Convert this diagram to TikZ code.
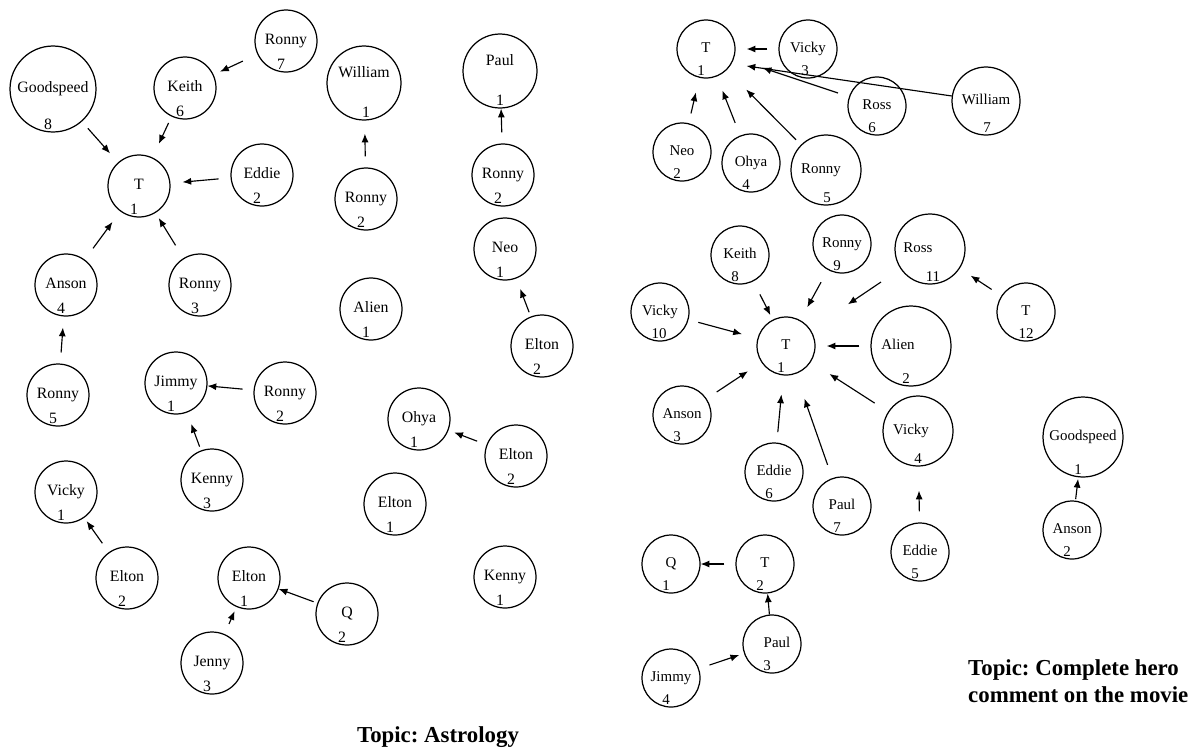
\documentclass[tikz,border=0pt]{standalone}
\usepackage{fontspec}
\setmainfont{Liberation Serif}
\usetikzlibrary{arrows.meta}
\frenchspacing
\tikzstyle{hero}=[circle,draw=black!100,line width=0.7pt,inner sep=0pt,minimum size=1.24cm,text height=6pt,text depth=1.5pt]
\tikzstyle{smallhero}=[hero,minimum size=1.16cm]
\tikzstyle{rank}=[inner sep=0pt,label distance=-0.27cm,xshift=-0.1cm]
\tikzstyle{link}=[-{Latex[length=5pt,width=4pt]},line width=0.65pt,shorten <=0.22cm,shorten >=0.22cm]
\tikzstyle{topic}=[font=\fontsize{13}{15.4}\selectfont\bfseries]

\begin{document}
\begin{tikzpicture}[x=0.02cm,y=-0.02cm,font=\fontsize{9}{11}\selectfont]
\useasboundingbox (0,0) rectangle (1189,751);

% Topic: Astrology
\node (good8) at (53,89) [hero,minimum size=1.72cm,label={[rank]below:8}] {Goodspeed};
\node (keith6) at (185,88) [hero,label={[rank]below:6}] {Keith};
\node (ronny7) at (286,41) [hero,label={[rank]below:7}] {Ronny};
\node (t1) at (139,186) [hero,label={[rank]below:1}] {T};
\node (eddie2) at (262,175) [hero,label={[rank]below:2}] {Eddie};
\node (william1) at (364,83) [hero,minimum size=1.48cm,text depth=11.7pt,label={[rank,xshift=0.14cm]below:1}] {William};
\node (ronny2a) at (366,199) [hero,label={[rank]below:2}] {Ronny};
\node (paul1) at (500,71) [hero,minimum size=1.48cm,text depth=11.7pt,label={[rank,xshift=0.1cm]below:1}] {Paul};
\node (ronny2b) at (503,175) [hero,label={[rank]below:2}] {Ronny};
\node (neo1) at (505,249) [hero,label={[rank]below:1}] {Neo};
\node (alien1) at (371,309) [hero,label={[rank]below:1}] {Alien};
\node (elton2a) at (542,346) [hero,label={[rank]below:2}] {Elton};
\node (ohya1) at (419,419) [hero,label={[rank]below:1}] {Ohya};
\node (elton2b) at (516,456) [hero,label={[rank]below:2}] {Elton};
\node (elton1a) at (395,504) [hero,label={[rank]below:1}] {Elton};
\node (kenny1) at (505,577) [hero,label={[rank]below:1}] {Kenny};
\node (anson4) at (66,285) [hero,label={[rank]below:4}] {Anson};
\node (ronny3) at (200,285) [hero,label={[rank]below:3}] {Ronny};
\node (ronny5) at (58,395) [hero,label={[rank]below:5}] {Ronny};
\node (jimmy1) at (176,383) [hero,label={[rank]below:1}] {Jimmy};
\node (ronny2c) at (285,393) [hero,label={[rank]below:2}] {Ronny};
\node (kenny3) at (212,480) [hero,label={[rank]below:3}] {Kenny};
\node (vicky1) at (66,492) [hero,label={[rank]below:1}] {Vicky};
\node (elton2c) at (127,578) [hero,label={[rank]below:2}] {Elton};
\node (elton1b) at (249,578) [hero,label={[rank]below:1}] {Elton};
\node (jenny3) at (212,663) [hero,label={[rank]below:3}] {Jenny};
\node (q2) at (347,614) [hero,label={[rank]below:2}] {Q};
\node (atitle) at (438,737) [topic] {Topic: Astrology};

\draw [link,shorten <=0.18cm,shorten >=0.24cm] (good8) -- (t1);
\draw [link,shorten <=0.14cm,shorten >=0.3cm] (keith6) -- (t1);
\draw [link,shorten <=0.32cm,shorten >=0.14cm] (ronny7) -- (keith6);
\draw [link,shorten <=0.24cm,shorten >=0.24cm] (eddie2) -- (t1);
\draw [link,shorten <=0.28cm,shorten >=0.26cm] (anson4) -- (t1);
\draw [link,shorten <=0.3cm,shorten >=0.12cm] (ronny3) -- (t1);
\draw [link,shorten >=0.26cm] (ronny2a) -- (william1);
\draw [link,shorten >=0cm] (ronny2b) -- (paul1);
\draw [link] (ronny5) -- (anson4);
\draw [link,shorten >=0cm] (ronny2c) -- (jimmy1);
\draw [link,shorten <=0.08cm,shorten >=0.24cm] (kenny3) -- (jimmy1);
\draw [link,shorten <=0.09cm] (elton2a) -- (neo1);
\draw [link,shorten <=0.2cm,shorten >=0.12cm] (elton2b) -- (ohya1);
\draw [link,shorten >=0.08cm] (elton2c) -- (vicky1);
\draw [link,shorten <=0.08cm,shorten >=0cm] (q2) -- (elton1b);
\draw [link,shorten >=0.09cm] (jenny3) -- (elton1b);

% Topic: Complete hero comment on the movie
\begin{scope}[font=\fontsize{8.5}{10}\selectfont]
\node (mt1a) at (706,49) [smallhero,label={[rank]below:1}] {T};
\node (mvicky3) at (808,49) [smallhero,label={[rank,xshift=0.04cm]below:3}] {Vicky};
\node (mross6) at (877,106) [smallhero,label={[rank]below:6}] {Ross};
\node (mwilliam7) at (986,101) [hero,minimum size=1.36cm,label={[rank,xshift=0.12cm]below:7}] {William};
\node (mneo2) at (682,152) [smallhero,label={[rank]below:2}] {Neo};
\node (mohya4) at (751,163) [smallhero,label={[rank]below:4}] {Ohya};
\node (mronny5) at (826,170) [hero,minimum size=1.4cm,label={[rank,xshift=0.12cm]below:5}] {Ronny\kern0.2cm};
\node (mkeith8) at (740,255) [smallhero,label={[rank]below:8}] {Keith};
\node (mronny9) at (842,244) [smallhero,label={[rank]below:9}] {Ronny};
\node (mross11) at (930,249) [hero,minimum size=1.4cm,label={[rank,xshift=0.16cm]below:11}] {Ross\kern0.48cm};
\node (mt12) at (1026,312) [smallhero,label={[rank,xshift=0.1cm]below:12}] {T};
\node (mvicky10) at (660,312) [smallhero,label={[rank,xshift=0.08cm]below:10}] {Vicky};
\node (mt1b) at (786,346) [smallhero,label={[rank]below:1}] {T};
\node (malien2) at (911,346) [hero,minimum size=1.6cm,label={[rank]below:2}] {Alien\kern0.52cm};
\node (manson3) at (682,415) [smallhero,label={[rank]below:3}] {Anson};
\node (mvicky4) at (918,431) [hero,minimum size=1.4cm,label={[rank,xshift=0.1cm]below:4}] {Vicky\kern0.28cm};
\node (meddie6) at (774,472) [smallhero,label={[rank]below:6}] {Eddie};
\node (mpaul7) at (842,506) [smallhero,label={[rank]below:7}] {Paul};
\node (meddie5) at (920,552) [smallhero,label={[rank]below:5}] {Eddie};
\node (mq1) at (671,564) [smallhero,label={[rank]below:1}] {Q};
\node (mt2) at (765,564) [smallhero,label={[rank]below:2}] {T};
\node (mpaul3) at (772,644) [smallhero,label={[rank]below:3}] {\kern0.2cm Paul};
\node (mjimmy4) at (671,678) [smallhero,label={[rank]below:4}] {Jimmy};
\node (mgood1) at (1083,437) [hero,minimum size=1.6cm,label={[rank]below:1}] {Goodspeed};
\node (manson2) at (1072,530) [smallhero,label={[rank]below:2}] {Anson};
\end{scope}
\node (mtitle) at (962,681) [topic,anchor=west,align=left] {Topic: Complete hero\\comment on the movie};

\draw [link] (mvicky3) -- (mt1a);
\draw [link,shorten <=0cm,shorten >=0.3cm] (mwilliam7) -- (mt1a.-30);
\draw [link,shorten <=0.23cm,shorten >=0.6cm] (mross6) -- (mt1a);
\draw [link,shorten <=0.14cm,shorten >=0.55cm] (mronny5) -- (mt1a);
\draw [link,shorten <=0.27cm,shorten >=0.3cm] (mohya4) -- (mt1a);
\draw [link,shorten <=0.2cm,shorten >=0.3cm] (mneo2) -- (mt1a);
\draw [link,shorten <=0.29cm,shorten >=0.1cm] (mkeith8) -- (mt1b);
\draw [link,shorten <=0.28cm,shorten >=0.29cm] (mronny9) -- (mt1b);
\draw [link,shorten <=0.47cm,shorten >=0.9cm] (mross11) -- (mt1b);
\draw [link,shorten <=0.23cm,shorten >=0.26cm] (mt12) -- (mross11);
\draw [link,shorten <=0.2cm,shorten >=0.32cm] (mvicky10) -- (mt1b);
\draw [link] (malien2) -- (mt1b);
\draw [link,shorten <=0.24cm,shorten >=0.32cm] (manson3) -- (mt1b);
\draw [link,shorten <=0.32cm,shorten >=0.44cm] (mvicky4) -- (mt1b);
\draw [link,shorten <=0.21cm,shorten >=0.38cm] (meddie6) -- (mt1b);
\draw [link,shorten <=0.28cm,shorten >=0.52cm] (mpaul7) -- (mt1b);
\draw [link,shorten >=0.48cm] (meddie5) -- (mvicky4);
\draw [link,shorten >=0cm] (mt2) -- (mq1);
\draw [link,shorten <=0cm,shorten >=0cm] (mpaul3) -- (mt2);
\draw [link,shorten >=0.1cm] (mjimmy4) -- (mpaul3);
\draw [link,shorten <=0.03cm,shorten >=0.03cm] (manson2) -- (mgood1);
\end{tikzpicture}
\end{document}
